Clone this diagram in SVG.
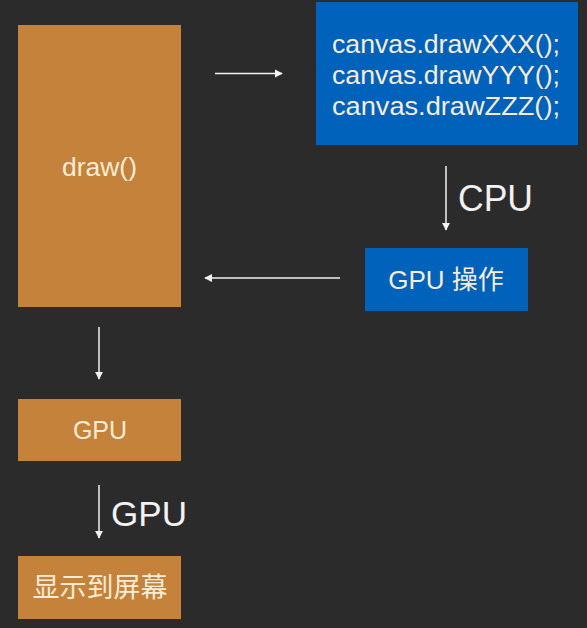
<svg xmlns="http://www.w3.org/2000/svg" width="587" height="628" viewBox="0 0 587 628">
<defs>
<style>
.bg{fill:#2b2b2b}
.orange{fill:#c4823a}
.blue{fill:#0062bb}
.t{fill:#f8ecd6;font-family:"Liberation Sans","Noto Sans CJK SC",sans-serif}
.tw{fill:#f2f2f2;font-family:"Liberation Sans","Noto Sans CJK SC",sans-serif}
.c{text-anchor:middle}
.line{stroke:#f2f2f2;stroke-width:1.5;fill:none}
</style>
<marker id="ah" viewBox="0 0 10 10" refX="9" refY="5" markerWidth="5.5" markerHeight="5.5" markerUnits="strokeWidth" orient="auto">
<path d="M0,0 L10,5 L0,10 z" fill="#f2f2f2"/>
</marker>
</defs>
<rect class="bg" x="0" y="0" width="587" height="628"/>
<g id="connectors">
<line class="line" x1="215" y1="73.5" x2="282" y2="73.5" marker-end="url(#ah)"/>
<line class="line" x1="446" y1="166" x2="446" y2="230" marker-end="url(#ah)"/>
<line class="line" x1="340" y1="278" x2="205" y2="278" marker-end="url(#ah)"/>
<line class="line" x1="99" y1="327" x2="99" y2="379" marker-end="url(#ah)"/>
<line class="line" x1="99" y1="485" x2="99" y2="538" marker-end="url(#ah)"/>
<text class="tw" x="458" y="211" font-size="36" textLength="75" lengthAdjust="spacingAndGlyphs">CPU</text>
<text class="tw" x="111" y="526" font-size="35" textLength="76" lengthAdjust="spacingAndGlyphs">GPU</text>
</g>
<g id="node-draw">
<rect class="orange" x="18" y="25" width="163" height="282"/>
<text class="t" x="62" y="176" font-size="25" textLength="75" lengthAdjust="spacingAndGlyphs">draw()</text>
</g>
<g id="node-canvas">
<rect class="blue" x="316" y="2" width="262" height="143"/>
<text class="t" x="332" y="53" font-size="25" textLength="228" lengthAdjust="spacingAndGlyphs">canvas.drawXXX();</text>
<text class="t" x="332" y="84" font-size="25" textLength="228" lengthAdjust="spacingAndGlyphs">canvas.drawYYY();</text>
<text class="t" x="332" y="115" font-size="25" textLength="228" lengthAdjust="spacingAndGlyphs">canvas.drawZZZ();</text>
</g>
<g id="node-gpu-op">
<rect class="blue" x="365" y="248" width="163" height="63"/>
<text class="t c" x="446" y="289" font-size="26">GPU 操作</text>
</g>
<g id="node-gpu">
<rect class="orange" x="18" y="399" width="163" height="62"/>
<text class="t c" x="100" y="439" font-size="25">GPU</text>
</g>
<g id="node-screen">
<rect class="orange" x="18" y="556" width="163" height="63"/>
<text class="t c" x="100" y="597" font-size="27">显示到屏幕</text>
</g>
</svg>
